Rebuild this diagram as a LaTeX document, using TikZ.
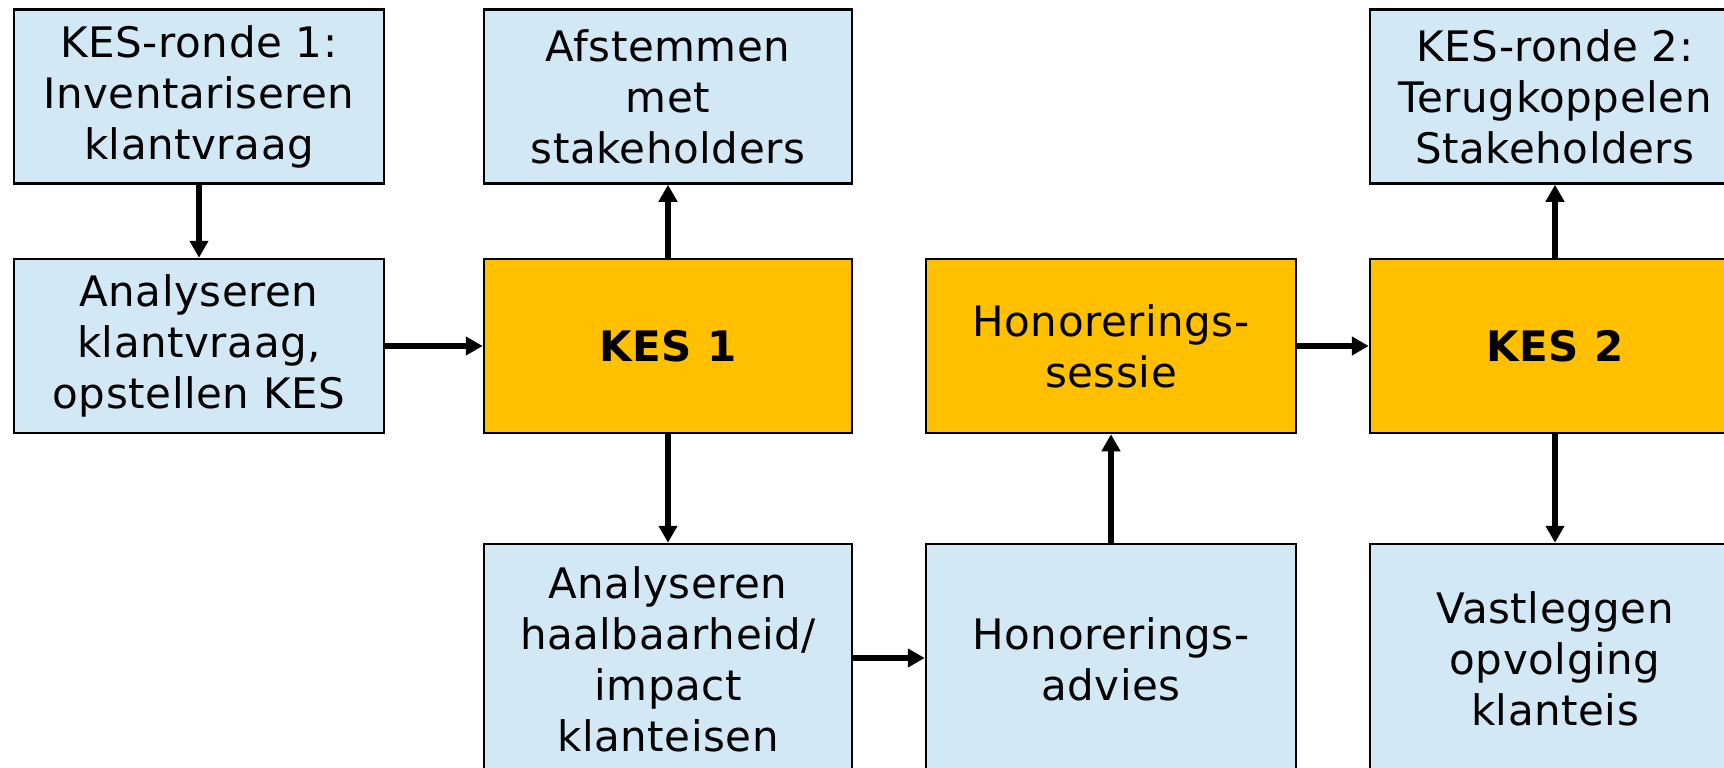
\documentclass[tikz,border=0pt]{standalone}
\usepackage{fontspec}
\setmainfont[LetterSpace=1.3]{DejaVu Sans}
\usetikzlibrary{arrows.meta}
\definecolor{lblue}{RGB}{210,233,245}
\definecolor{kesorange}{RGB}{255,192,0}
\begin{document}
\begin{tikzpicture}[x=1pt,y=-1pt,
  box/.style={draw=black,line width=2.5pt,fill=lblue,rectangle,inner sep=0pt,
    minimum width=370pt,minimum height=174pt,align=center,
    font=\fontsize{42}{51}\selectfont},
  kesbox/.style={box,fill=kesorange},
  tallbox/.style={box,minimum height=230pt},
  conn/.style={line width=6pt,-{Triangle[length=17pt,width=18pt]}}]
\useasboundingbox (0,0) rectangle (1724,768);
\clip (0,0) rectangle (1724,768);
\node[box] (ronde1) at (199,96.5) {KES-ronde 1:\\Inventariseren\\klantvraag};
\node[box] (anakv) at (199,346) {Analyseren\\klantvraag,\\opstellen KES};
\node[box,minimum width=368pt] (afst) at (668,96.5) {Afstemmen\\met\\stakeholders};
\node[kesbox,minimum width=368pt] (kes1) at (668,346) {\bfseries KES 1};
\node[tallbox,minimum width=368pt] (anahb) at (668,659) {Analyseren\\haalbaarheid/\\impact\\klanteisen};
\node[kesbox] (hsessie) at (1111,346) {Honorerings-\\sessie};
\node[tallbox] (hadvies) at (1111,659) {Honorerings-\\advies};
\node[box] (ronde2) at (1555,96.5) {KES-ronde 2:\\Terugkoppelen\\Stakeholders};
\node[kesbox] (kes2) at (1555,346) {\bfseries KES 2};
\node[tallbox] (vast) at (1555,659) {Vastleggen\\opvolging\\klanteis};
\draw[conn] (ronde1) -- (anakv);
\draw[conn] (anakv) -- (kes1);
\draw[conn] (kes1) -- (afst);
\draw[conn] (kes1) -- (anahb);
\draw[conn] (anahb.east |- 0,658) -- (hadvies.west |- 0,658);
\draw[conn] (hadvies.north) -- (hsessie.south);
\draw[conn] (hsessie) -- (kes2);
\draw[conn] (kes2) -- (ronde2);
\draw[conn] (kes2) -- (vast);
\end{tikzpicture}
\end{document}
